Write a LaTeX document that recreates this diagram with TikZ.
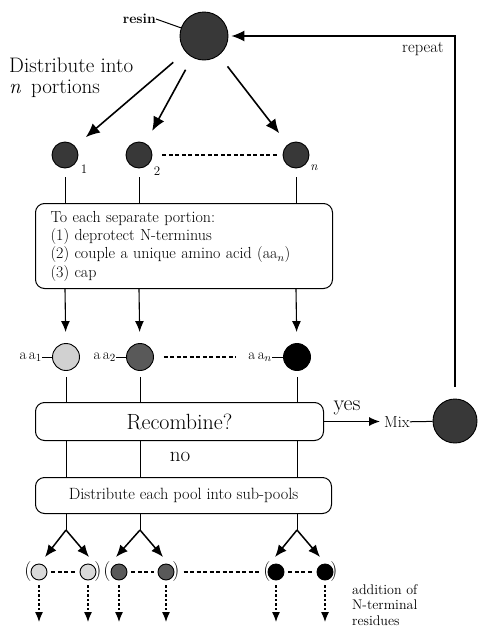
\documentclass[tikz,border=0pt]{standalone}
\usepackage{fontspec}
\usetikzlibrary{arrows.meta}
\begin{document}
\begin{tikzpicture}[x=1pt,y=-1pt,
  ball/.style={circle,draw=black,line width=0.9pt,inner sep=0pt,minimum size=#1},
  procbox/.style={draw=black,line width=1pt,rounded corners=9pt,inner sep=0pt},
  bigarrow/.style={line width=1.6pt,-{Latex[length=14pt,width=12pt]}},
  midarrow/.style={line width=1.5pt,-{Latex[length=12pt,width=10pt]}},
  smallarrow/.style={line width=1.1pt,-{Latex[length=11pt,width=9pt]}},
  repeatarrow/.style={line width=1.2pt,-{Latex[length=13pt,width=11pt]}},
  dotarrow/.style={line width=1.2pt,dash pattern=on 2.5pt off 2pt,-{Latex[length=10pt,width=8pt]}},
  conn/.style={line width=1pt},
  dashline/.style={line width=1.4pt,dash pattern=on 4pt off 2.5pt},
  lbl/.style={inner sep=0pt,font=\fontsize{13}{15}\selectfont},
  paren/.style={inner sep=0pt,font=\fontsize{20}{22}\selectfont}
]
\useasboundingbox (0,0) rectangle (480,632);

% resin and distribution
\node[ball=48pt,fill=black!78] (resin) at (204,36) {};
\node[lbl,anchor=east,font=\fontsize{14}{16}\selectfont\bfseries] (resinlbl) at (156,19) {resin};
\draw[conn] (resinlbl.east) -- (resin);
\node[inner sep=0pt,anchor=north west,align=left,font=\fontsize{21}{21}\selectfont] (distlbl) at (9,58) {Distribute into\\\textit{n}\, portions};

\node[ball=26pt,fill=black!78] (p1) at (65,155) {};
\node[ball=26pt,fill=black!78] (p2) at (139,155) {};
\node[ball=26pt,fill=black!78] (pn) at (296,155) {};
\node[lbl] (s1) at (84,169) {1};
\node[lbl] (s2) at (157,171) {2};
\node[lbl] (sn) at (314,168) {\textit{n}};

\draw[bigarrow,shorten <=16pt,shorten >=14pt] (resin) -- (p1);
\draw[bigarrow,shorten <=14pt,shorten >=14pt] (resin) -- (p2);
\draw[bigarrow,shorten <=14pt,shorten >=14pt] (resin) -- (pn);
\draw[dashline,shorten <=10pt,shorten >=5pt] (p2) -- (pn);

% step box
\node[procbox,minimum width=297pt,minimum height=85pt,text width=267pt,align=left,anchor=north west,font=\fontsize{16}{18.3}\selectfont] (step1) at (35,203)
  {To each separate portion:\\(1) deprotect N-terminus\\(2) couple a unique amino acid (aa$_n$)\\(3) cap};
\foreach \p in {p1,p2,pn} \draw[conn,shorten <=9pt] (\p) -- (\p |- step1.north);

% amino acid pools
\node[ball=27pt,fill=black!18] (aa1) at (66,357) {};
\node[ball=27pt,fill=black!65] (aa2) at (140,357) {};
\node[ball=27pt,fill=black] (aan) at (297,357) {};
\node[lbl,anchor=east,font=\fontsize{15}{17}\selectfont] (aa1l) at (42,357) {a\,a$_1$};
\node[lbl,anchor=east,font=\fontsize{15}{17}\selectfont] (aa2l) at (116,357) {a\,a$_2$};
\node[lbl,anchor=east,font=\fontsize{15}{17}\selectfont] (aanl) at (272,357) {a\,a$_n$};
\draw[conn] (aa1l) -- (aa1);
\draw[conn] (aa2l) -- (aa2);
\draw[conn] (aanl) -- (aan);
\draw[dashline,shorten <=10pt,shorten >=12pt] (aa2) -- (aanl);
\draw[smallarrow,shorten >=11pt] (p1 |- step1.south) -- (aa1);
\draw[smallarrow,shorten >=11pt] (p2 |- step1.south) -- (aa2);
\draw[smallarrow,shorten >=11pt] (pn |- step1.south) -- (aan);

% recombine
\node[procbox,minimum width=288pt,minimum height=38pt,anchor=north west,font=\fontsize{22}{24}\selectfont] (recomb) at (35,402) {Recombine?};
\foreach \a in {aa1,aa2,aan} \draw[conn,shorten <=6pt] (\a) -- (\a |- recomb.north);
\node[lbl,anchor=west,font=\fontsize{16}{18}\selectfont] (mixl) at (384,422) {Mix};
\node[lbl,font=\fontsize{22}{24}\selectfont] (yeslbl) at (347,408) {yes};
\draw[smallarrow,shorten >=4pt] (recomb.east) -- (recomb.east -| mixl.west);
\node[ball=44pt,fill=black!78] (mixball) at (455,421) {};
\draw[conn] (mixl) -- (mixball);
\coordinate (corner) at (455,36);
\draw[repeatarrow,shorten <=12pt,shorten >=3pt] (mixball) -- (corner) -- (resin);
\node[lbl,font=\fontsize{16.5}{18}\selectfont] (replbl) at (423,49) {repeat};

% distribute into sub-pools
\node[lbl,font=\fontsize{21}{23}\selectfont] (nolbl) at (180,457) {no};
\node[procbox,minimum width=296pt,minimum height=36pt,anchor=north west,font=\fontsize{16.3}{18}\selectfont] (distbox) at (35,477) {Distribute each pool into sub-pools};
\foreach \a in {aa1,aa2,aan} \draw[conn] (\a |- recomb.south) -- (\a |- distbox.north);

\coordinate (f1) at (66,530);
\coordinate (f2) at (140,530);
\coordinate (fn) at (297,530);
\draw[conn] (f1 |- distbox.south) -- (f1);
\draw[conn] (f2 |- distbox.south) -- (f2);
\draw[conn] (fn |- distbox.south) -- (fn);
\coordinate (t11) at (45,557);
\coordinate (t12) at (89,557);
\coordinate (t21) at (116,557);
\coordinate (t22) at (163,557);
\coordinate (tn1) at (275,557);
\coordinate (tn2) at (320,557);
\draw[midarrow] (f1) -- (t11);
\draw[midarrow] (f1) -- (t12);
\draw[midarrow] (f2) -- (t21);
\draw[midarrow] (f2) -- (t22);
\draw[midarrow] (fn) -- (tn1);
\draw[midarrow] (fn) -- (tn2);

\node[ball=16pt,fill=black!15] (b11) at (39,572) {};
\node[ball=16pt,fill=black!15] (b12) at (88,572) {};
\node[ball=16pt,fill=black!65] (b21) at (119,572) {};
\node[ball=16pt,fill=black!65] (b22) at (166,572) {};
\node[ball=16pt,fill=black] (bn1) at (276,572) {};
\node[ball=16pt,fill=black] (bn2) at (325,572) {};
\node[paren] (o1) at (28,572) {(};
\node[paren] (c1) at (98,572) {)};
\node[paren] (o2) at (107,572) {(};
\node[paren] (c2) at (176,572) {)};
\node[paren] (on) at (267,572) {(};
\node[paren] (cn) at (334,572) {)};
\draw[dashline,shorten <=4pt,shorten >=4pt] (b11) -- (b12);
\draw[dashline,shorten <=4pt,shorten >=4pt] (b21) -- (b22);
\draw[dashline,shorten <=4pt,shorten >=4pt] (bn1) -- (bn2);
\draw[dashline,shorten <=4pt,shorten >=4pt] (c2) -- (on);

\coordinate (ybot) at (0,622);
\foreach \b in {b11,b12,b21,b22,bn1,bn2} \draw[dotarrow,shorten <=5pt] (\b) -- (\b |- ybot);

\node[inner sep=0pt,anchor=north west,align=left,font=\fontsize{14}{15.5}\selectfont] (addlbl) at (352,584) {addition of\\N-terminal\\residues};
\end{tikzpicture}
\end{document}
